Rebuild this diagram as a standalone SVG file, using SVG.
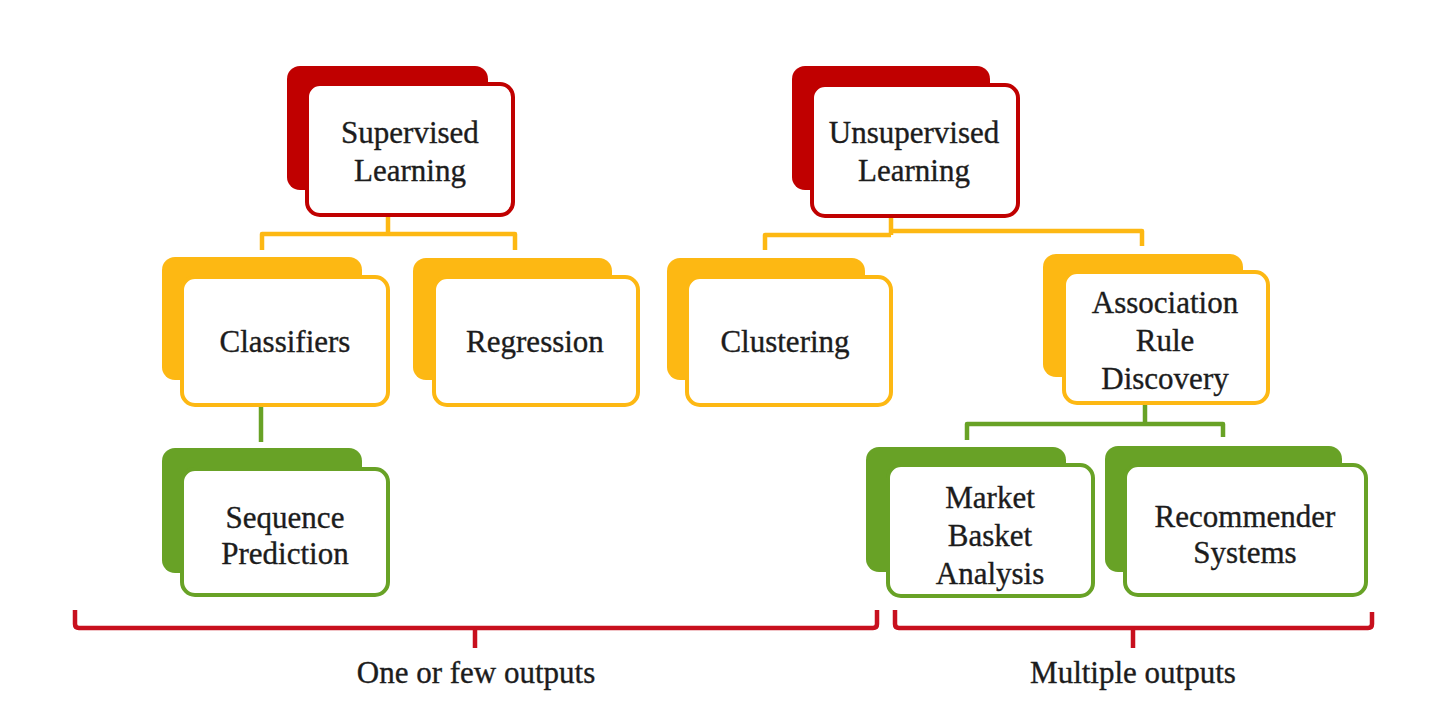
<svg xmlns="http://www.w3.org/2000/svg" width="1434" height="718" viewBox="0 0 1434 718">
<style>
.bg{fill:#ffffff}
.back{stroke:none}
.front{fill:#ffffff;stroke-width:4}
.red .back{fill:#c00000}
.red .front{stroke:#c00000}
.yel .back{fill:#fdb813}
.yel .front{stroke:#fdb813}
.grn .back{fill:#68a226}
.grn .front{stroke:#68a226}
.lbl{font-family:"Liberation Serif","Times New Roman",serif;font-size:31px;fill:#1c1c1c;stroke:#1c1c1c;stroke-width:0.35;text-anchor:middle}
.c{fill:none;stroke-width:4.5;stroke-linejoin:round}
.cy{stroke:#fdb813}
.cg{stroke:#68a226}
.cr{stroke:#c8101e}
</style>
<rect class="bg" x="0" y="0" width="1434" height="718"/>
<g id="connectors">
<path class="c cy" d="M388,217 V234 M262,250 V234 H515 V250"/>
<path class="c cy" d="M891,218 V235 M765,250 V235 H891 M891,231 H1142 V246"/>
<path class="c cg" d="M261,407 V442"/>
<path class="c cg" d="M1145,405 V424 M967,440 V424 H1223 V437"/>
<path class="c cr" d="M75,610 V624 Q75,628 79,628 H873 Q877,628 877,624 V610 M475,628 V648"/>
<path class="c cr" d="M895,610 V624 Q895,628 899,628 H1368 Q1372,628 1372,624 V612 M1133,628 V648"/>
</g>
<g id="supervised" class="red">
<rect class="back" x="287" y="66" width="201" height="124" rx="13"/>
<rect class="front" x="307" y="84" width="206" height="131" rx="13"/>
<text class="lbl" x="410" y="143">Supervised</text>
<text class="lbl" x="410" y="181">Learning</text>
</g>
<g id="unsupervised" class="red">
<rect class="back" x="792" y="66" width="198" height="124" rx="13"/>
<rect class="front" x="812" y="85" width="206" height="131" rx="13"/>
<text class="lbl" x="914" y="143">Unsupervised</text>
<text class="lbl" x="914" y="181">Learning</text>
</g>
<g id="classifiers" class="yel">
<rect class="back" x="162" y="257" width="200" height="123" rx="13"/>
<rect class="front" x="182" y="277" width="206" height="128" rx="13"/>
<text class="lbl" x="285" y="352">Classifiers</text>
</g>
<g id="regression" class="yel">
<rect class="back" x="413" y="258" width="199" height="122" rx="13"/>
<rect class="front" x="434" y="277" width="204" height="128" rx="13"/>
<text class="lbl" x="535" y="352">Regression</text>
</g>
<g id="clustering" class="yel">
<rect class="back" x="667" y="258" width="198" height="122" rx="13"/>
<rect class="front" x="687" y="277" width="204" height="128" rx="13"/>
<text class="lbl" x="785" y="352">Clustering</text>
</g>
<g id="association" class="yel">
<rect class="back" x="1043" y="254" width="200" height="123" rx="13"/>
<rect class="front" x="1064" y="272" width="204" height="131" rx="13"/>
<text class="lbl" x="1165" y="313">Association</text>
<text class="lbl" x="1165" y="351">Rule</text>
<text class="lbl" x="1165" y="389">Discovery</text>
</g>
<g id="sequence" class="grn">
<rect class="back" x="162" y="448" width="200" height="125" rx="13"/>
<rect class="front" x="182" y="469" width="206" height="126" rx="13"/>
<text class="lbl" x="285" y="528">Sequence</text>
<text class="lbl" x="285" y="564">Prediction</text>
</g>
<g id="market" class="grn">
<rect class="back" x="866" y="447" width="200" height="125" rx="13"/>
<rect class="front" x="888" y="465" width="205" height="131" rx="13"/>
<text class="lbl" x="990" y="508">Market</text>
<text class="lbl" x="990" y="546">Basket</text>
<text class="lbl" x="990" y="584">Analysis</text>
</g>
<g id="recommender" class="grn">
<rect class="back" x="1105" y="446" width="237" height="126" rx="13"/>
<rect class="front" x="1125" y="465" width="241" height="130" rx="13"/>
<text class="lbl" x="1245" y="527">Recommender</text>
<text class="lbl" x="1245" y="563">Systems</text>
</g>
<g id="labels">
<text class="lbl" x="476" y="683">One or few outputs</text>
<text class="lbl" x="1133" y="683">Multiple outputs</text>
</g>
</svg>
